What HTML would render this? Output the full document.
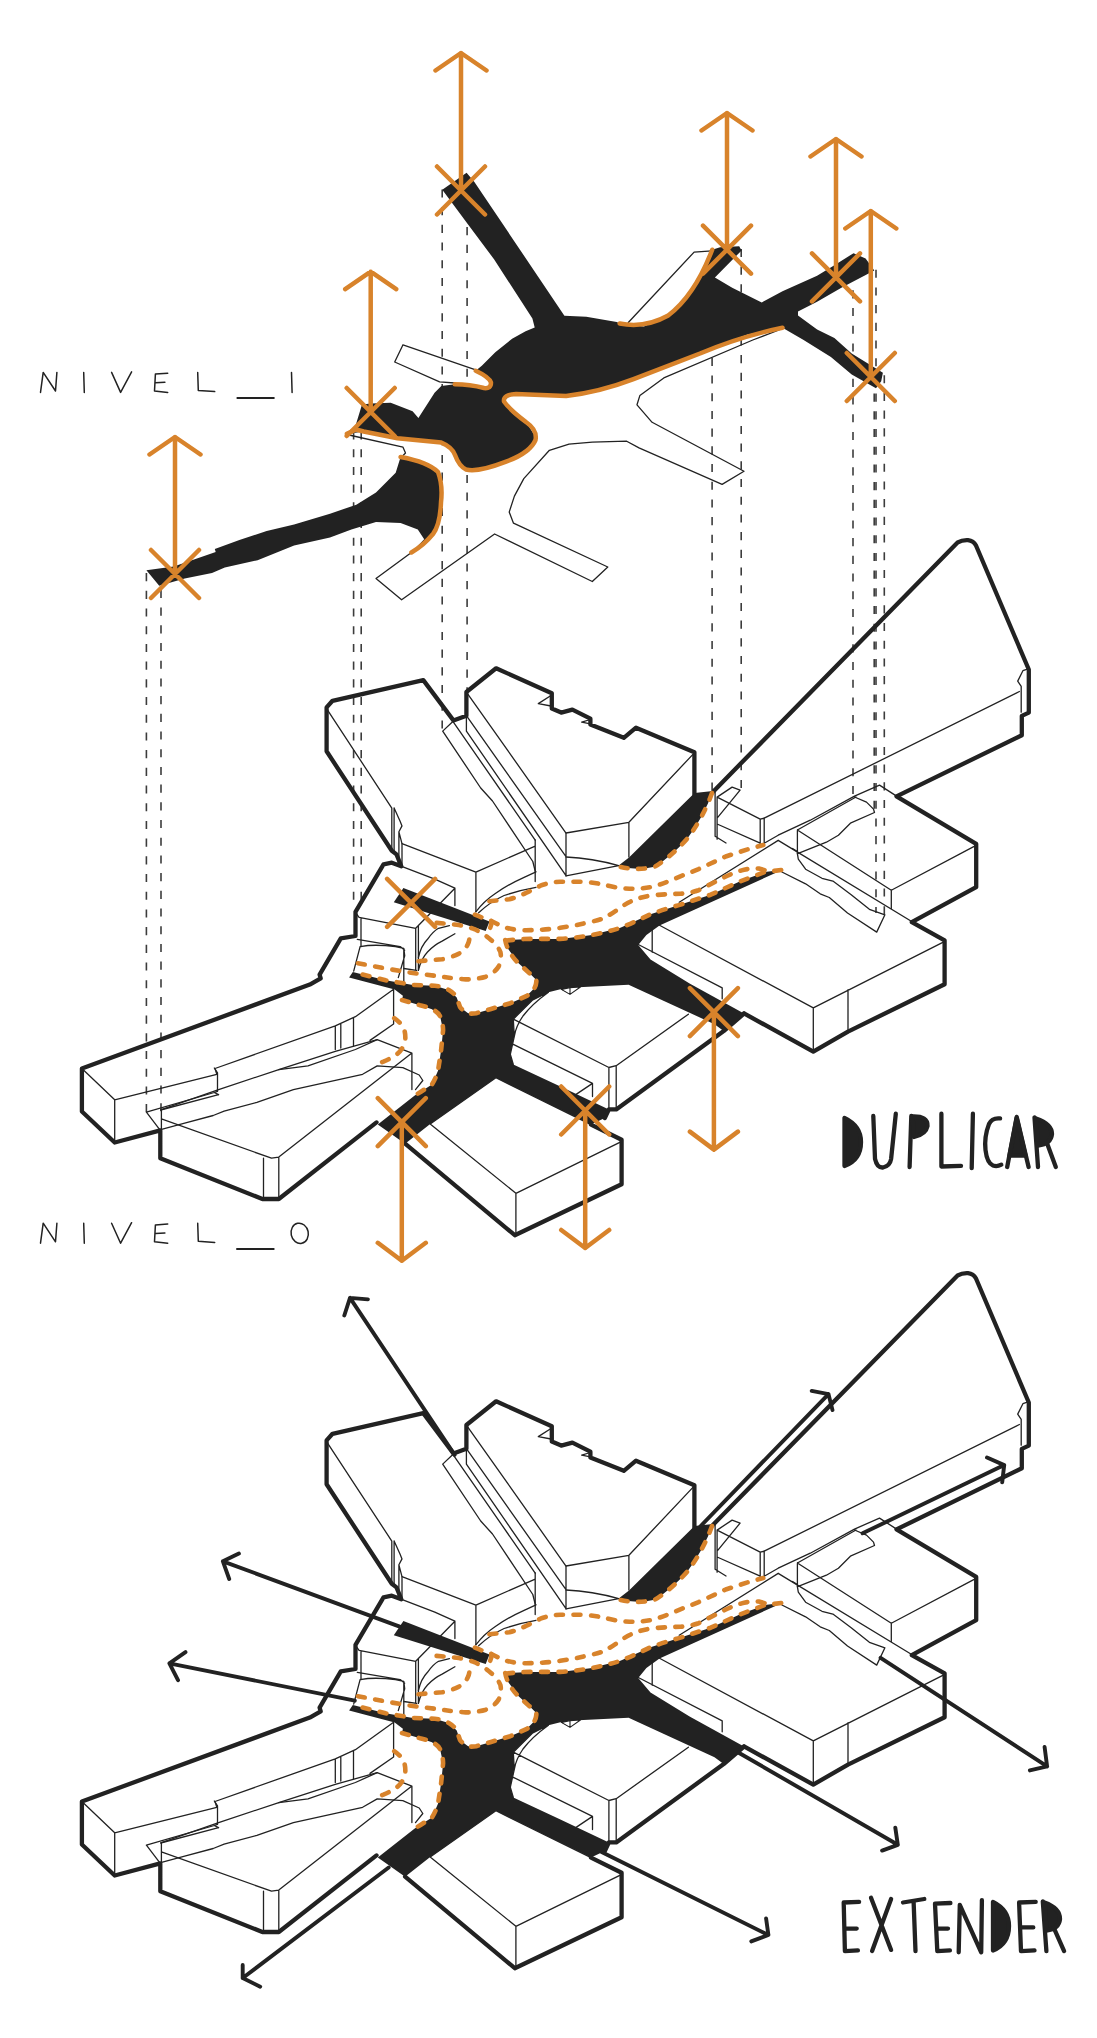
<!DOCTYPE html><html><head><meta charset="utf-8"><style>html,body{margin:0;padding:0;background:#fff}svg{display:block}</style></head><body>
<svg width="1097" height="2038" viewBox="0 0 1097 2038">
<style>
.k{fill:#222}
.t{fill:none;stroke:#222;stroke-width:1.3;stroke-linejoin:round;stroke-linecap:round}
.T{fill:none;stroke:#222;stroke-width:4.3;stroke-linejoin:round;stroke-linecap:round}
.o{fill:none;stroke:#d8832b;stroke-width:4.5;stroke-linecap:round;stroke-linejoin:round}
.od{fill:none;stroke:#d8832b;stroke-width:4.6;stroke-linecap:round;stroke-linejoin:round;stroke-dasharray:7 10.5}
.d{fill:none;stroke:#3c3c3c;stroke-width:1.6;stroke-dasharray:8.1 9.6}
.a{fill:none;stroke:#222;stroke-width:3.9;stroke-linecap:round;stroke-linejoin:round}
.w{fill:#fff}
</style>
<rect width="1097" height="2038" fill="#fff"/>
<path class="d" d="M146.4,573.1 L146.4,1112 M161,572.2 L161,1118 M353.6,431.5 L353.6,905 M361.2,431.5 L361.2,900 M442.2,189.4 L442.2,730 M467.1,191.7 L467.1,690 M712.1,269.3 L712.1,790 M741.2,248.9 L741.2,790 M853,290.3 L853,800 M874.2,375.9 L874.2,812 M876,269.7 L876,913 M884.3,375.2 L884.3,915"/>

<!-- ===== NIVEL_1 floating shape ===== -->
<g id="lvl1">
<!-- thin outlines of level-1 footprints -->
<path class="t" d="M403,344.8 L394.7,362 L439.6,381.9 L454.7,383 M403,344.8 L475.7,369.8"/>
<path class="t" d="M349,435 L403,447.2 L405.5,453 L400.6,458"/>
<path class="t" d="M628.3,322.5 L694.1,252.1 L712,250.8"/>
<path class="t" d="M779,330 L752.8,340 L663.8,377.9 L639.9,395.4 L637,404.8 L652.1,422.3 L744,471.3 L722.1,484.4 L639,447.9 L626.7,441.2 L592.3,442.1 L569,444.1 L549.4,450.3 L523.8,478.6 L514.4,496.1 L509.2,512.1 L513.5,523.2 L607.8,567 L592.3,581.5 L494.6,534 L401.6,599.8 L376,578.6 L411.4,552.5"/>
<!-- black shape -->
<path class="k" d="M466.6,172.8 L442.3,189.7 L466.6,222.4 L494.2,259.5 L532.4,318.5 L534.7,327.6 L525.6,331.3 L512.1,338.8 L495.3,352.2 L481.8,365.7 L475.7,370.8
 L487,377 L491.2,382 L488.5,388.7 L478.4,385.8 L454.8,384.3 L441.3,386 L434.6,392.7 L418.4,418 L412.6,411.3 L390.7,402.8 L371,403.5 L362,404.5 L355.3,426.4 L346.9,433.9
 L363.7,431.5 L397.5,438.2 L441.3,442.6 L453.1,451.7 L458.2,461.9 L464.9,468.6 L478.4,470.3 L505.4,461.9 L529,451.7 L536.4,438.2 L529,426.4 L512.1,413 L503.7,401.1 L512.1,394.4 L532.4,394.4 L566.1,396.1 L599.8,391 L633.5,379.2 L667.3,365.7 L700,353.5 L713.2,346.7 L747.8,334.6 L782.5,327.7
 L803.2,339.8 L830.9,357.1 L851.7,374.4 L876,388.3 L881.2,381.3 L882.9,372.7 L851.7,353.6 L834.4,338 L817.1,329.4 L798,315.5 L798,311.4 L817.1,301.7 L841.4,287.8 L874.3,270.5 L865.6,258.4 L853.5,253.2 L834.4,265.3 L817.1,275.7 L782.5,291.3 L761.7,302.4 L732.2,287.8 L714.9,277.4 L741.6,250.4 L739.2,246.3 L720.1,247.3 L712.2,249.7
 L702.8,274 L689,294.8 L668.2,315.5 L643.9,326.6 L619.7,323.5 L616.7,321.9 L586.3,316.8 L564.4,315.8 L474.4,181.9 Z"/>
<path class="k" d="M400.6,457 L395.7,472.8 L376,492.4 L356.3,504.7 L330,513.7 L294.1,524.6 L266.7,531 L239.4,540.1 L214.8,548.9 L215.7,552 L173.8,566.5 L146.4,570.2 L159.2,585.7 L184.7,578.4 L212,572.9 L224.8,567.5 L257.6,560.2 L294.1,545.6 L330,537.4 L351.4,529.4 L376,522 L400.6,523 L417.8,529.4 L424.2,539.2 L411.4,552.5 L422.7,544.1 L435,531.8 L441,502.3 L440,475.2 L425.2,463.9 Z"/>
<!-- orange edge strokes -->
<path class="o" d="M475.7,370.8 Q489,377 491,382.5 Q491,389 484,388 Q470,384.5 454.8,384.3"/>
<path class="o" d="M346.9,433.9 L356,429.5 L363.7,431.5 L397.5,438.2 L441.3,442.6 Q452,447 455,455 Q459,466 466,469.5 Q478,472.5 505.4,461.9 Q530,453 535.5,440 Q537.5,430 526,422 Q510,410 504,401.5 Q503,394.5 516,394 L566.1,396.1 Q600,392 633.5,379.2 L700,353.5 Q740,336.5 782.5,327.7"/>
<path class="o" d="M619.7,323.5 Q645,328.5 668.2,315.5 Q695,295 712.2,249.7"/>
<path class="o" d="M400.6,457 Q428,462 438,472 Q443,485 441,502.3 Q440,525 433,534 Q424,545 411.4,552.5"/>
</g>

<defs>
<g id="bldg">
<!-- ===== black ground path ===== -->
<!-- wedge between B and C -->
<path class="k" d="M694.5,793 L713,791 Q703,818 687.5,838.3 Q672,856 654.7,866.8 Q636,871 618,866 L629,857.5 Z"/>
<!-- small parallelogram near X (block H) -->
<path class="k" d="M403.4,888.1 L393.8,902.2 L485.7,931 L489.5,921.4 Z"/>
<!-- main body -->
<path class="k" d="M505.2,940 L530.2,938.9 L560.3,938.9 L590.3,935.3 L620.4,927.8 L650.5,914.2 L680.6,904.6 L710.7,894.7 L740.8,881.1 L764.8,872.1 L781.4,870
 L779.3,871.3 L659.5,925.4 L646.4,935 L638.2,944.9 L650.5,959.4 L689.6,983.4 L744,1013.4 L723.7,1031 L714.5,1024.2 L628.6,984.8 L578.4,987.2 L569.4,994.2 L560.4,989.2 L548.4,992.2 L532.3,1000.2 L513.3,1019.2 L514.3,1036.3 L510.3,1054.3 L513.3,1064.4 L560.4,1086.4 L608.9,1109.4 L604.8,1118 L591,1124.6 L495.9,1077.7 L430.2,1124 L405.1,1143.7 L377.8,1124.6
 L414.4,1095.7 L432,1084.4 L438.1,1070.4 L441.1,1050.3 L443.1,1030.3 L440.1,1016.2 L432,1009.2 L420,1005.2 L402,1000 L402.9,995.8 L394.7,989.4 L349.1,977.6 L352.8,972.1 L385.6,980.3 L412.9,984.9 L434.8,985.8 L449.4,990.3 L456.7,997.6 L460.1,1007.2 L468.1,1013.2 L476.2,1013.2 L490.2,1009.2 L510.3,1003.2 L526.3,996.2 L534.3,988.2 L536.3,980.1 L529.3,973.1 L518.3,963.1 L508.2,949 Z"/>
<!-- ===== thin lines ===== -->
<!-- Block A -->
<path class="t" d="M326.6,708.6 L391.8,808.1 L391.8,850 M394.1,808 L394.1,852 M394.1,808 L400.1,821.2 L402,825.9 L398.9,831.8 L402,843.7 L402,866 M398.9,831.8 L398.9,859"/>
<path class="t" d="M402,843.7 L475.9,872.1 L535.2,846.1 M475.9,872.1 L475.9,911.5 M535.2,840 L535.2,881.6"/>
<!-- strip between A and B -->
<path class="t" d="M453.4,721 L442.7,731.1 L480.7,788 L492.5,801 L532.8,861.5 L535.2,871 M453.4,722.1 L535.2,840.1"/>
<!-- Block B -->
<path class="t" d="M466.4,692 L566,833 M466.4,715.7 L566,856.7 M466.4,731.1 L566,875.7 M466.4,715 L466.4,731.1 M566,833 L566,875.9"/>
<path class="t" d="M566,833 L628.9,822.3 L692.7,754.6 M628.9,822.3 L628.9,857 M566,875.9 L618.7,865.7 M566,857 Q592,858 618.7,865.7"/>
<path class="t" d="M551,695.5 L538.3,703.6 L551,706 M590.4,719.5 L581.7,722.2 L590.4,723.8"/>
<!-- Block H (small, with X) -->
<path class="t" d="M400.3,865.9 L434.8,879.1 L454.9,888.2 L415.7,928.3 L359.1,917.4 L355,912 M361,918.3 L361,946.6 M415.7,928.3 L415.7,969.4 M418.4,926 L418.4,970.3 M454.9,888.2 L454.9,905.6 M403.8,968.5 L416.6,970.3"/>
<path class="t" d="M418.4,957.5 Q421,946 427.5,939.3 Q433,931.5 438.5,928.3 L449.4,925.6 M418.4,970.3 Q421,959 427.5,952 Q434,945 442.1,941.1 L454.9,933.8"/>
<path class="t" d="M475.8,911.9 Q484,901 495,893.7 Q509,884 524.1,877.3 L536,871.8 M478.6,912.8 Q490,902 504.1,895.5 Q520,890 536,887.3"/>
<!-- Block C -->
<path class="t" d="M764.2,818.2 L1019.4,691.5 M1028.1,668.9 L1022.9,670.7 L1017.7,681.1 L1021.2,686.3 L1021.2,712.2"/>
<path class="t" d="M715.1,792.1 L715.1,836.2 M717.1,797.1 L717.1,839.2 M717.1,797.1 L732.1,787.1 L740.1,790.1 L717.1,818.2 M717.1,797.1 L760.2,819.2 L764.2,818.2 M760.2,819.2 L760.2,846.2 M764.2,819 L764.2,844 M717.1,824 L760.2,843.2 M715.1,836.2 L726,843"/>
<path class="t" d="M764.2,843.2 L778.2,835.2 L810.3,820.2 L854.5,796.1 L879.5,785.1 L896.6,796.1 M854.5,797 L866.5,802.1 L873.5,809.1 L874.5,812.5 L850.4,823.2 L838.4,835.2 L826.4,842.2 L798.3,853.3"/>
<!-- Block E -->
<path class="t" d="M797.4,830 L856,797 M797.4,830 L891.3,890.2 L975.6,845.6 M797.4,830 L797.4,853.7 M891.3,890.2 L891.3,908.4"/>
<path class="t" d="M797.4,853.7 L798.3,859.2 L805.6,869.2 L822,878.3 L832.9,881.1 L851.2,894.7 L869.4,909.3 L884.9,914.8 L876.7,932.1 L847.5,913 L829.3,897.5 L820.2,893.8 L805.6,883.8 L781.9,872"/>
<!-- raised path edge -->
<path class="t" d="M679.2,902.2 L778.2,840.4 M792.5,848.5 L797.4,851.5"/>
<!-- Block D -->
<path class="t" d="M778.2,840.4 L911.3,921.2 M659.5,925.2 L813.3,1007.9 L942.8,942.3 M813.3,1007.9 L813.3,1051.6 M848,989.7 L848,1031.6"/>
<path class="t" d="M652.2,928.5 L652.2,952.3 M638.3,944.5 L722.2,987.8 L722.2,998.8"/>
<!-- Block F -->
<path class="t" d="M81.9,1068.5 L114.7,1099.8 L216.8,1074.3 L215,1068.5 L335.3,1025.8 L355.4,1016.7 L393.6,989.3 M114.7,1099.8 L114.7,1142.5 M335.3,1025.8 L335.3,1049.5 M340.8,1024 L340.8,1048 M353.5,1018 L353.5,1045.9 M393.6,989.3 L393.6,1024 L370,1040.4"/>
<path class="t" d="M214.3,1068 L217.5,1072.8 L217.5,1091.4 L214.3,1092.5 L218.6,1094.7 M146.4,1112.2 L214.3,1092.5 M160.6,1110 L218.6,1094.7 M146.4,1112.2 L160.3,1130.4"/>
<!-- Block G -->
<path class="t" d="M161.4,1118.8 L271.5,1158.2 L278.8,1157.1 L411.9,1053.1 L377.2,1039.7 M161.4,1109.7 L218.6,1089.6 L278.8,1069.6 L335.3,1051.3 L377.2,1039.7 M161.4,1109.7 L161.4,1130 M263.5,1158.2 L263.5,1197.2 M278.8,1157.1 L278.8,1199 M411.9,1053.1 L411.9,1089.6"/>
<path class="t" d="M160.6,1129.7 L184.7,1123.1 L213.2,1115.5 L224.1,1111.1 L256.9,1102.4 L293.4,1089.6 L362.6,1074.3 L377.2,1065.9 L402.8,1067.7 L419.2,1075 L422.8,1080.5 L415.5,1089.6 M278.8,1069.6 L308,1065.9 L355.4,1049.5 L377.2,1039.7"/>
<!-- block above F (small) -->
<path class="t" d="M357.3,939.3 L400.2,946.6 L404.7,950.2 M360.1,946.6 L353.7,971.2 M360.1,946.6 Q372,944.5 385.6,945.7 Q396,946.5 403.8,948.4 L404.7,955.7 L398.3,977.6 M403.8,948.4 L403.8,983"/>
<!-- Block K -->
<path class="t" d="M513.3,1019.2 L608.9,1067.5 L616.2,1065.7 L688.4,1014.2 M513.3,1019.2 L532.3,1000.2 L548.4,992.2 M608.9,1067.5 L608.9,1109.4 M616.2,1065.7 L616.2,1109.4 M513.3,1019.2 L514.3,1036.3 L510.3,1054.3 L513.3,1064.4 M513.3,1044.3 L592.5,1083.4 L592.5,1096.5 M592.5,1083.4 L576.1,1094.4 M514.3,1036.3 Q516,1026 523,1016 Q532,1004 548.4,992.2"/>
<path d="M561.5,989.4 L570,994.4 L580.4,987 L570,987.6 Z M570,988 L570,994.4" fill="#fff" stroke="#222" stroke-width="1.1" stroke-linejoin="round"/>
<!-- Block J -->
<path class="t" d="M430.2,1124 L515.9,1193.3 L619.8,1142.3 M515.9,1193.3 L515.9,1235.2 M430.2,1124 L495.9,1077.7 L591,1124.6"/>
<!-- ===== thick outline ===== -->
<path class="T" d="M376.5,1122.4 L278.8,1199 L262.4,1199 L160.3,1158.2 L160.3,1130.4 L114.7,1142.5 L81.9,1111.5 L81.9,1068.5 L309.8,984.6 L320.7,978.4 L319.6,974.7 L340.8,938.3 L355.5,936 L355.5,911.8 L383.5,864.3 L391.8,862.7 L401.3,866.2 L396.5,854.4 L391.8,850.8 L326.6,751.3 L326.6,707.4 L332.5,700.8 L423.3,680.1 L453.4,720.4 L466.4,715.7 L466.4,692 L496.1,668.3 L551.8,693.2 L551.8,708.6 L561.2,712.6 L572.4,709.6 L590.4,718.7 L590.4,724.4 L623.8,737.8 L636,727.7 L694.4,752.2 L694.4,795"/>
<path class="T" d="M712.9,791.9 L957.8,542.3 Q962,539.8 968,540.1 Q973.5,540.8 976,545.5 L1028.8,669.5 L1028.8,712.6 L1021.8,715.9 L1021.8,735.2 L896.5,796.4 L976.2,843.9 L976.2,887.2 L911.8,922.2 L944.6,940.4 L944.6,984.2 L848,1031.6 L813.3,1051.6 L744,1013.4"/>
<path class="T" d="M744,1013.6 L723.7,1031 L616.2,1109.4 L608.9,1109.4 L604.8,1118"/>
<path class="T" d="M591,1124.6 L621.6,1139.7 L621.6,1184.2 L514.8,1235.2 L405.1,1143.7"/>
<!-- ===== orange dashed curves ===== -->
<path class="od" d="M712,793 Q703,818 687.5,838.3 Q672,856 654.7,866.8 Q636,871 620,866.8"/>
<path class="od" d="M489.4,901.2 L509.4,899.2 Q518,897 525.9,893 L540.4,885.7 Q550,882 560.3,881.7 L584.3,881.7 Q597,883 608.4,885.7 Q620,888.5 629.4,888.7 Q640,889 650.5,887.2 Q663,884 674.6,878.7 L698.6,869.1 L725.7,856.5 L746.8,849.6 L763.3,845"/>
<path class="od" d="M474.9,914.7 Q483,918 491.3,921 Q498,924.5 505,927.4 Q513,929.8 522.3,930.2 Q541,930.5 560.3,927.8 Q573,926 584.3,923.3 Q594,921.5 602.4,918.7 Q610,915 617.4,909.7 Q625,904 632.5,900.7 Q641,897 650.5,895.6 Q666,894 680.6,893.8 Q690,893 698.6,890.2 L719.7,879.6 Q730,874 740.8,870.6 Q750,868 758.8,868.5 L766.3,870.6"/>
<path class="od" d="M506.1,940.7 Q518,939 530.2,938.9 L560.3,938.9 Q576,938 590.3,935.3 Q606,932.5 620.4,927.8 Q636,921.5 650.5,914.2 Q665,909 680.6,904.6 L710.7,894.7 L740.8,881.1 L764.8,872.1 L781.4,870"/>
<!-- blob boundary + left arm top -->
<path class="od" d="M505.2,940 Q506,945 508.2,949 Q512,957 518.3,963.1 L529.3,973.1 Q537,978 536.3,982 Q536,986 534.3,988.2 Q531,993 526.3,996.2 L510.3,1003.2 L490.2,1009.2 L476.2,1013.2 Q471,1014 468.1,1013.2 Q463,1011 460.1,1007.2 L456.7,997.6 Q453,992 449.4,990.3 Q442,986 434.8,985.8 L412.9,984.9 L385.6,980.3 L352.8,972.1"/>
<!-- outer loop b -->
<path class="od" d="M436.6,922.9 L456.7,924.7 Q466,926 474.9,929.3 Q484,934 491.3,940.2 Q498,946 500.4,952 Q502,960 498.6,966.6 Q494,973.5 485.9,976.7 Q476,979.5 465.8,979.4 Q453,978.5 442.1,976.7 L412.9,973 L391,969.4 L356.4,963"/>
<!-- inner loop c -->
<path class="od" d="M418.4,961.2 L442.1,959.3 Q451,957.5 458.5,953.9 Q465,950 467.6,944.7 Q469.5,941 469.4,937.5 L468,930"/>
<!-- small loop near M start -->
<path class="od" d="M491.3,921 Q492,926 488.6,930.2"/>
<!-- stem left boundary -->
<path class="od" d="M402,1000 L420,1005.2 Q428,1007 432,1009.2 Q438,1012 440.1,1016.2 Q443,1023 443.1,1030.3 L441.1,1050.3 L438.1,1070.4 Q436,1078 432,1084.4 Q424,1090 414.4,1095.7"/>
<!-- arc on G -->
<path class="od" d="M394.2,1018.2 Q400,1022 403.5,1027.5 Q406,1034 405.1,1041.5 Q403,1049 397.3,1053.9 Q391,1058.5 383.4,1061.6 L372.5,1065.6"/>
</g>
</defs>
<use href="#bldg"/>
<use href="#bldg" y="733"/>

<path class="o" d="M461,190.5 L461,53 M435.5,70.5 L461,53 L486.5,70.5 M437,166.5 L485,214.5 M485,166.5 L437,214.5 M727,249.7 L727,113 M701.5,130.5 L727,113 L752.5,130.5 M703,225.7 L751,273.7 M751,225.7 L703,273.7 M836,277.4 L836,139 M810.5,156.5 L836,139 L861.5,156.5 M812,253.39999999999998 L860,301.4 M860,253.39999999999998 L812,301.4 M870.8,377 L870.8,211 M845.3,228.5 L870.8,211 L896.3,228.5 M846.8,353 L894.8,401 M894.8,353 L846.8,401 M370.7,412 L370.7,271.7 M345.2,289.2 L370.7,271.7 L396.2,289.2 M346.7,388 L394.7,436 M394.7,388 L346.7,436 M175,574 L175,437 M149.5,454.5 L175,437 L200.5,454.5 M151,550 L199,598 M199,550 L151,598"/>
<path class="o" d="M387.1,878.8 L435.1,926.8 M435.1,878.8 L387.1,926.8 M377.8,1098.2 L425.8,1146.2 M425.8,1098.2 L377.8,1146.2 M401.8,1122.2 L401.8,1260.8 M377.8,1242.8 L401.8,1260.8 L425.8,1242.8 M561.2,1086.5 L609.2,1134.5 M609.2,1086.5 L561.2,1134.5 M585.2,1110.5 L585.2,1248 M561.2,1230 L585.2,1248 L609.2,1230 M689.9,988.1 L737.9,1036.1 M737.9,988.1 L689.9,1036.1 M713.9,1012.1 L713.9,1149.6 M689.9,1131.6 L713.9,1149.6 L737.9,1131.6"/>

<path class="a" d="M454.6,1454.9 L350,1297.9 M344.3,1315.5 L350,1297.9 L367.9,1299.4 M399.7,1626.7 L222.9,1561.3 M238.9,1553.6 L222.9,1561.3 L229.2,1579 M354.8,1700.7 L169.4,1663.3 M185.5,1652.1 L169.4,1663.3 L178,1680.2 M700.2,1526.5 L828.5,1394.1 M811.7,1390.9 L828.5,1394.1 L832.5,1410.1 M862.6,1533.3 L1004.2,1465.1 M987,1457.5 L1004.2,1465.1 L1002.2,1482.3 M880.6,1657.8 L1047.1,1766.4 M1044.6,1746.9 L1047.1,1766.4 L1029.9,1770.4 M738.7,1752.7 L897.8,1844.8 M895.3,1827.6 L897.8,1844.8 L882.1,1850.6 M601.6,1852.1 L768.4,1935 M766.1,1918.5 L768.4,1935 L751.3,1941.4 M388.7,1867.5 L242.7,1978 M242.7,1964.9 L242.7,1978 L260.2,1986.7"/>

<!-- NIVEL_1 / NIVEL_0 -->
<g fill="none" stroke="#222" stroke-width="1.5" stroke-linecap="round" stroke-linejoin="round">
<path id="nivel" d="M40.5,392.4 L43.2,372.4 L55.5,391 L56.9,372.4 M83.7,372.4 L84.3,392.4 M111.6,372.4 L120.6,392.4 L131.6,371.9 M167.7,373.2 L155.4,374.1 L154.5,391 L167.7,392.4 M155.4,382.8 L164.9,382.3 M197.7,372.4 L198.3,390.5 L214.7,391.6"/>
<path d="M291.5,372.4 L292.1,392.4"/>
<path stroke-width="2" d="M237.4,397.9 L273.8,397.9"/>
<use href="#nivel" y="850.8"/>
<path stroke-width="2" d="M237,1248.9 L273.7,1248.9"/>
<ellipse cx="299.7" cy="1233.3" rx="8.6" ry="10.2" transform="rotate(-12 299.7 1233.3)"/>
</g>
<!-- DUPLICAR -->
<g fill="#222" stroke="#222" stroke-width="4.3" stroke-linecap="round" stroke-linejoin="round">
<path d="M844.5,1118 L844.5,1166 Q861,1160 861,1142 Q861,1126 844.5,1118 Z"/>
<path fill="none" d="M873.3,1116 L875,1158.7 Q877,1168 883,1167.5 Q890,1166 891.1,1159 L895.8,1113.7"/>
<path fill="none" d="M911.3,1116 L909.6,1167"/>
<path d="M912.5,1116.5 Q928,1116 927.5,1126 Q926,1134 914,1137 Z"/>
<path fill="none" d="M941.4,1113.7 L941.4,1166.5 L961,1165.8"/>
<path fill="none" d="M972.9,1113.7 L971.7,1168.2"/>
<path fill="none" d="M1000.1,1118.4 Q992,1117.5 989,1124 Q984,1137 985.5,1150 Q987,1163 993,1165.5 Q997,1167 1001.3,1164.7"/>
<path d="M1016.7,1118 L1009.5,1155.5 L1025.5,1155.5 Z"/>
<path fill="none" d="M1016.7,1117 L1007.2,1167 M1016.7,1117 L1028.6,1167"/>
<path fill="none" d="M1034.5,1117.3 L1038,1167 M1047.5,1144.5 L1055.8,1167"/>
<path d="M1036,1118.5 Q1052,1124 1052,1134 Q1051,1144 1038,1145.5 Z"/>
</g>
<!-- EXTENDER -->
<g fill="#222" stroke="#222" stroke-width="4.3" stroke-linecap="round" stroke-linejoin="round">
<path fill="none" d="M859.1,1901.8 L843.7,1902.5 L844.9,1951.1 L857.9,1950.4 M844.3,1928.6 L856.7,1928.6"/>
<path fill="none" d="M871,1897.8 L891.1,1949.9 M891.1,1899 L872.1,1951.1"/>
<path fill="none" d="M903,1902.5 L924.3,1899 M913.6,1901.3 L915.5,1951.1"/>
<path fill="none" d="M950.4,1903 L935,1903.7 L937.3,1951.1 L949.9,1950.4 M936.2,1928.6 L948,1928.6"/>
<path fill="none" d="M958.7,1952.3 L959.8,1904.9 L981.2,1952.3 L981.9,1900.1"/>
<path d="M993,1902 L993,1950.5 Q1009,1944 1009,1926 Q1009,1910 993,1902 Z"/>
<path fill="none" d="M1035.7,1901.8 L1019.1,1902.5 L1021,1951.1 L1034.5,1950.4 M1020,1927.4 L1033.3,1927.4"/>
<path fill="none" d="M1042.8,1901.3 L1046.4,1951.1 M1054.7,1929.8 L1064.1,1951.1"/>
<path d="M1044.5,1902.5 Q1060,1908 1060,1919 Q1059,1929 1046.5,1930.5 Z"/>
</g>

</svg></body></html>
